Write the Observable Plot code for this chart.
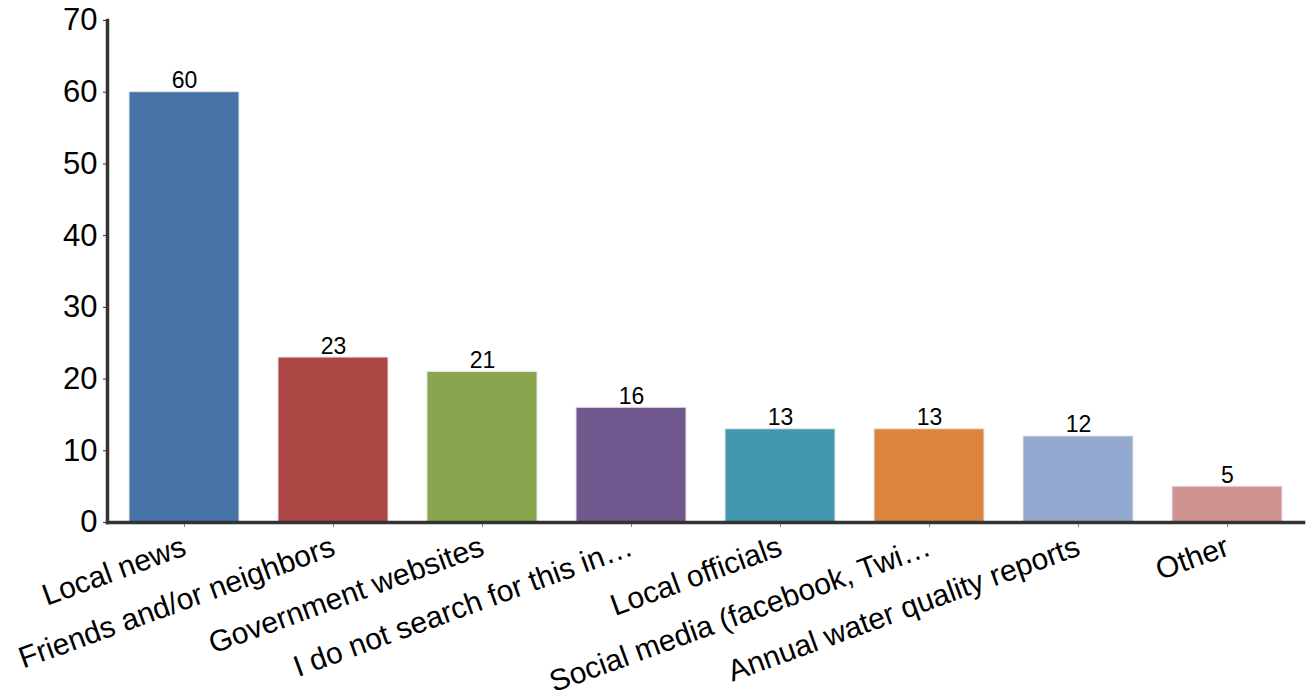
<!DOCTYPE html>
<html><head><meta charset="utf-8">
<script src="https://cdn.jsdelivr.net/npm/d3@7"></script>
<script src="https://cdn.jsdelivr.net/npm/@observablehq/plot@0.6"></script>
<style>html,body{margin:0;padding:0;background:#fff}</style>
</head><body><div id="chart"></div>
<script>
const categories = ["Local news", "Friends and/or neighbors", "Government websites", "I do not search for this in…", "Local officials", "Social media (facebook, Twi…", "Annual water quality reports", "Other"];
const values = [60, 23, 21, 16, 13, 13, 12, 5];
const colors = ["#4572A7", "#AA4643", "#89A54E", "#71588F", "#4198AF", "#DB843D", "#93A9CF", "#D09392"];
const yTicks = [0, 10, 20, 30, 40, 50, 60, 70];

const data = categories.map((c, i) => ({category: c, value: values[i]}));

const chart = Plot.plot({
  width: 1310, height: 695,
  marginLeft: 107, marginRight: 7, marginTop: 20, marginBottom: 173,
  style: {fontFamily: "'Liberation Sans', Arial, sans-serif", background: "#fff", color: "#000"},
  x: {domain: categories, paddingInner: 0.264, paddingOuter: 0.132, label: null},
  y: {domain: [0, 70], label: null},
  color: {domain: categories, range: colors},
  marks: [
    Plot.barY(data, {x: "category", y: "value", fill: "category", stroke: "#e6e6e6", strokeWidth: 1}),
    Plot.text(data, {x: "category", y: "value", text: d => String(d.value), lineAnchor: "bottom", dy: -4, fontSize: 23, fill: "#000"}),
    Plot.axisY({ticks: yTicks, tickSize: 4, tickPadding: 6, fontSize: 31, stroke: "#333", label: null, fill: "#000"}),
    Plot.axisX({tickSize: 5, tickPadding: 18, tickRotate: -20, fontSize: 30, stroke: "#888", label: null, fill: "#000"}),
    Plot.frame({anchor: "left", stroke: "#333", strokeWidth: 3.5}),
    Plot.frame({anchor: "bottom", stroke: "#333", strokeWidth: 3.5})
  ]
});
document.getElementById("chart").appendChild(chart);
</script>
</body></html>
